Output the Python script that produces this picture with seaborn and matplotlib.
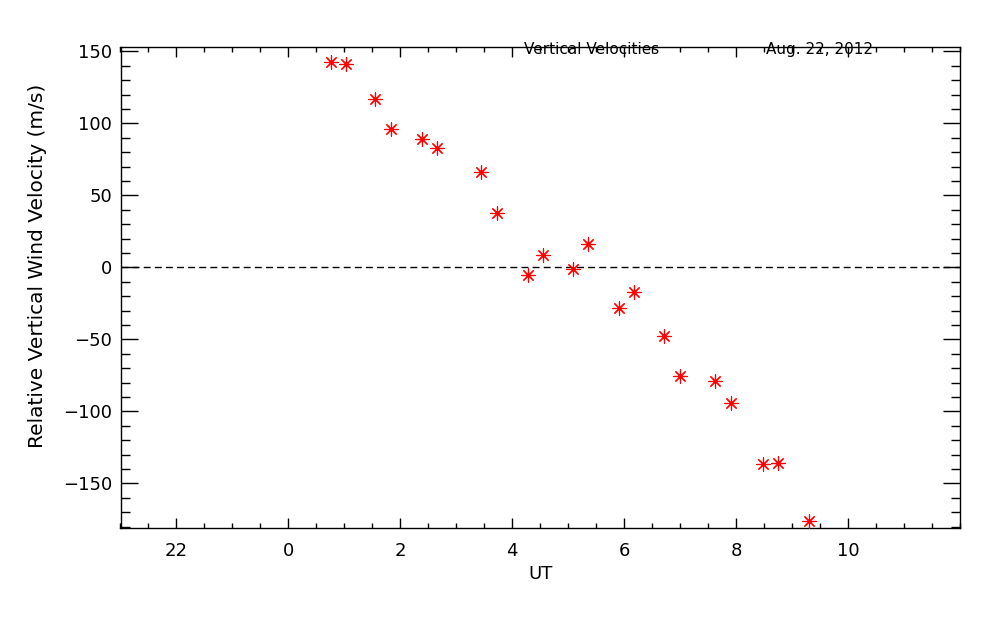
import numpy as np
import pandas as pd
import matplotlib
matplotlib.use('Agg')
import matplotlib.pyplot as plt
import seaborn as sns
from matplotlib.ticker import MultipleLocator

# UT hours (negative = previous day) and relative vertical wind velocity (m/s)
ut_hours = [0.77, 1.03, 1.55, 1.84, 2.38, 2.65, 3.45, 3.72, 4.29, 4.55, 5.09,
            5.36, 5.91, 6.18, 6.72, 7.00, 7.63, 7.90, 8.48, 8.75, 9.30]
velocity = [142.5, 141.3, 117.0, 96.3, 89.0, 83.0, 66.0, 37.6, -5.5, 8.5, -1.2,
            16.1, -28.4, -17.3, -47.6, -75.3, -79.0, -94.0, -136.5, -135.8, -175.8]
x_ticks = [-2, 0, 2, 4, 6, 8, 10]
x_tick_labels = ['22', '0', '2', '4', '6', '8', '10']

df = pd.DataFrame({'ut': ut_hours, 'vel': velocity})

sns.set_style('ticks')
plt.rcParams['font.family'] = ['DejaVu Sans']
plt.rcParams['text.color'] = 'black'
plt.rcParams['axes.labelcolor'] = 'black'

fig = plt.figure(figsize=(10, 6.25), dpi=100)
ax = fig.add_axes([0.1205, 0.1552, 0.8395, 0.7696])

ax.axhline(0, color='black', lw=1, ls=(0, (5, 3)))

sns.scatterplot(data=df, x='ut', y='vel', marker=(8, 2, 0), s=90,
                color='red', linewidth=0.85, ax=ax, zorder=3)
sns.scatterplot(data=df, x='ut', y='vel', marker='o', s=7,
                color='red', linewidth=0, ax=ax, zorder=4)

ax.set_xlim(-3, 12)
ax.set_ylim(-181, 153)
ax.set_xticks(x_ticks)
ax.set_xticklabels(x_tick_labels)
ax.xaxis.set_minor_locator(MultipleLocator(0.5))
ax.yaxis.set_major_locator(MultipleLocator(50))
ax.yaxis.set_minor_locator(MultipleLocator(10))

for s in ax.spines.values():
    s.set_linewidth(1)
    s.set_color('black')
ax.tick_params(axis='both', which='both', direction='in', top=True, right=True,
               colors='black', width=1, labelsize=13)
ax.tick_params(axis='x', which='major', length=7.2, pad=10)
ax.tick_params(axis='x', which='minor', length=3.6)
ax.tick_params(axis='y', which='major', length=12.2, pad=6)
ax.tick_params(axis='y', which='minor', length=6.2)

ax.set_xlabel('UT', fontsize=13, labelpad=4)
ax.set_ylabel('Relative Vertical Wind Velocity (m/s)', fontsize=14.5)
ax.yaxis.set_label_coords(-0.088, 0.545)

fig.text(0.592, 0.921, 'Vertical Velocities', ha='center', va='center', fontsize=11)
fig.text(0.820, 0.921, 'Aug. 22, 2012', ha='center', va='center', fontsize=11)

fig.savefig('out.png', dpi=100, facecolor='white')
